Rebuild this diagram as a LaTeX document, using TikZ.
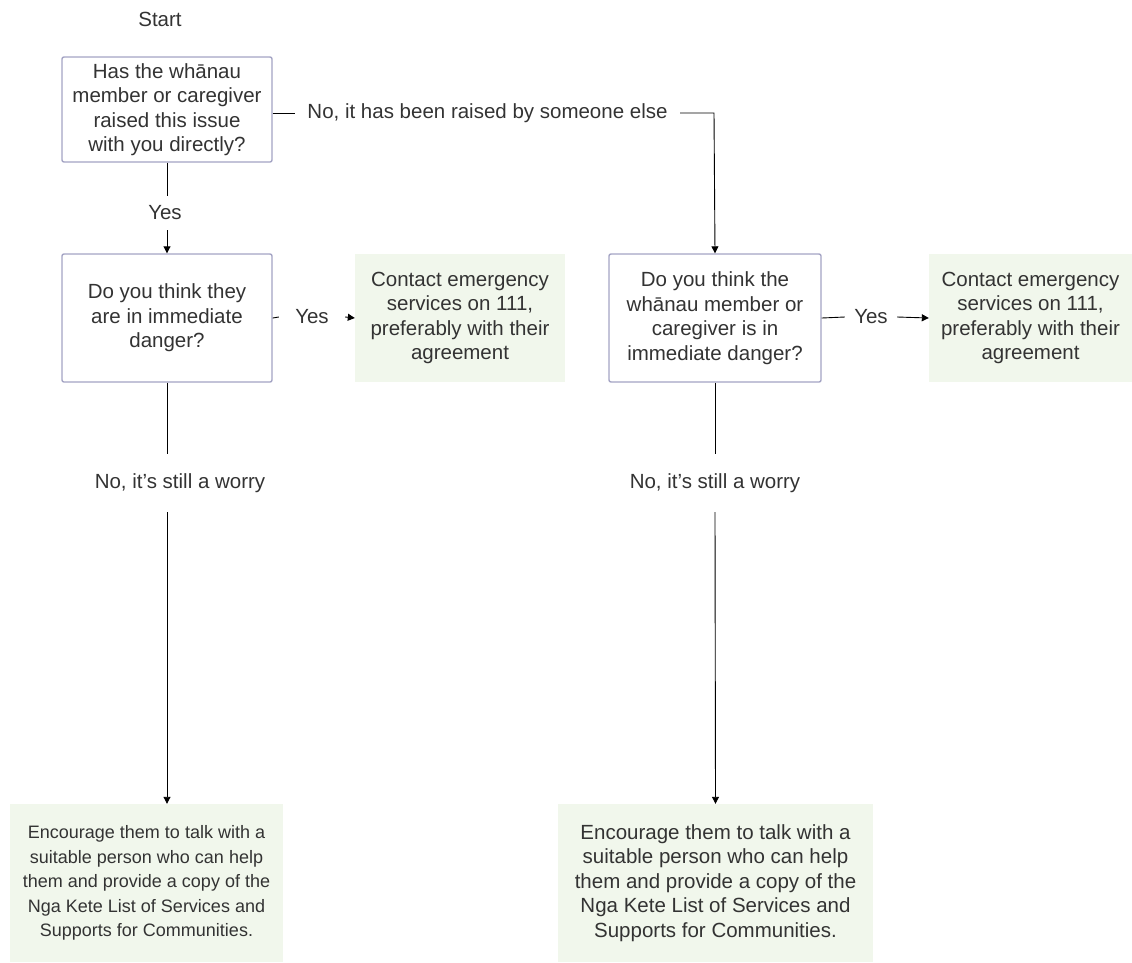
\documentclass[tikz,border=0pt]{standalone}
\usepackage{fontspec}
\setmainfont{Liberation Sans}
\usetikzlibrary{arrows.meta}
\definecolor{qborder}{HTML}{A4A4C4}
\definecolor{gfill}{HTML}{F1F7EC}
\definecolor{txt}{HTML}{333333}
\tikzset{
  every node/.style={text=txt, font=\fontsize{20.5}{24.5}\selectfont},
  qbox/.style={draw=qborder, line width=1.4pt, rounded corners=2pt, fill=white, align=center, inner sep=0pt},
  gbox/.style={fill=gfill, align=center, inner sep=0pt},
  lab/.style={inner sep=0pt},
  conn/.style={line width=0.9pt, black},
  arr/.style={conn, -{Triangle[length=7pt,width=7pt]}}
}
\begin{document}
\begin{tikzpicture}[x=1pt,y=-1pt]
\useasboundingbox (0,0) rectangle (1132,962);
\node[lab] (start) at (160,19) {Start};
\node[qbox, minimum width=210pt, minimum height=105pt] (q1) at (167,109.5) {Has the whānau\\member or caregiver\\raised this issue\\with you directly?};
\node[qbox, minimum width=210pt, minimum height=128pt] (q2) at (167,318) {Do you think they\\are in immediate\\danger?};
\node[gbox, minimum width=210pt, minimum height=128pt] (e1) at (460,318) {Contact emergency\\services on 111,\\preferably with their\\agreement};
\node[qbox, minimum width=212pt, minimum height=128pt] (q3) at (715,318) {Do you think the\\whānau member or\\caregiver is in\\immediate danger?};
\node[gbox, minimum width=203pt, minimum height=128pt] (e2) at (1030.5,318) {Contact emergency\\services on 111,\\preferably with their\\agreement};
\node[gbox, minimum width=273pt, minimum height=158pt, font=\fontsize{18}{24.5}\selectfont] (e3) at (146.5,883) {Encourage them to talk with a\\suitable person who can help\\them and provide a copy of the\\Nga Kete List of Services and\\Supports for Communities.};
\node[gbox, minimum width=315pt, minimum height=158pt] (e4) at (715.5,883) {Encourage them to talk with a\\suitable person who can help\\them and provide a copy of the\\Nga Kete List of Services and\\Supports for Communities.};
% labels
\node[lab, minimum height=34pt] (y1) at (165,213) {Yes};
\node[lab, minimum width=66pt] (y2) at (312,317) {Yes};
\node[lab, minimum width=52pt] (y3) at (871,317) {Yes};
\node[lab, minimum width=385pt] (no1) at (487.5,113) {No, it has been raised by someone else};
\node[lab, minimum height=58pt] (w1) at (180,483) {No, it’s still a worry};
\node[lab, minimum height=58pt] (w2) at (715,483) {No, it’s still a worry};
\coordinate (c1) at (714,113);
% connectors
\draw[conn] (q1.south) -- (q1.south |- y1.north);
\draw[arr] (q1.south |- y1.south) -- (q2.north);
\draw[conn] (q1.east |- no1.west) -- (no1.west);
\draw[arr] (no1.east) -- (c1) -- (q3.north);
\draw[conn] (q2.east) -- (y2.west);
\draw[arr] (y2.east) -- (e1.west);
\draw[conn] (q3.east) -- (y3.west);
\draw[arr] (y3.east) -- (e2.west);
\draw[conn] (q2.south) -- (q2.south |- w1.north);
\draw[arr] (q2.south |- w1.south) -- (q2.south |- e3.north);
\draw[conn] (q3.south) -- (q3.south |- w2.north);
\draw[arr] (q3.south |- w2.south) -- (e4.north);
\end{tikzpicture}
\end{document}
